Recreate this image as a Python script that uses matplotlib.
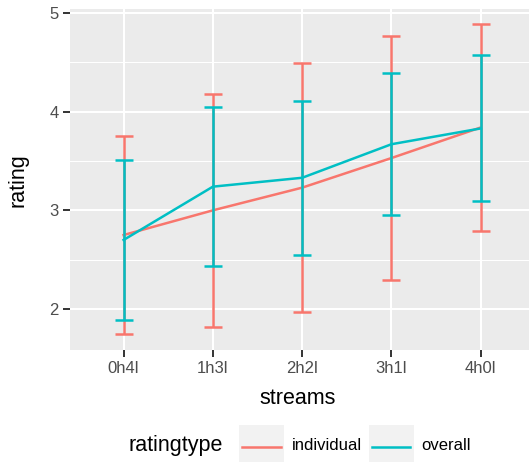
import matplotlib
matplotlib.use("Agg")
import matplotlib.pyplot as plt
from matplotlib.patches import Rectangle
from matplotlib.lines import Line2D

plt.rcParams['font.family'] = ['Liberation Sans', 'DejaVu Sans']

streams = ['0h4l', '1h3l', '2h2l', '3h1l', '4h0l']
individual_mean = [2.75, 3.00, 3.23, 3.53, 3.84]
individual_err = [1.005, 1.18, 1.26, 1.24, 1.045]
overall_mean = [2.70, 3.24, 3.33, 3.67, 3.83]
overall_err = [0.815, 0.805, 0.78, 0.72, 0.74]

series = [('individual', individual_mean, individual_err, '#F8766D'),
          ('overall', overall_mean, overall_err, '#00BFC4')]

W, H = 529, 462
fig = plt.figure(figsize=(W / 100, H / 100), dpi=100)


def fx(x):
    return x / W


def fy(y):
    return 1 - y / H


ax = fig.add_axes([fx(70), fy(350), 1 - fx(70), fy(9) - fy(350)])
ax.set_facecolor('#EBEBEB')
for s in ax.spines.values():
    s.set_visible(False)

xs = list(range(len(streams)))
for name, mean, err, col in series:
    ax.plot(xs, mean, color=col, lw=1.8, zorder=3)
    ax.errorbar(xs, mean, yerr=err, fmt='none', ecolor=col, elinewidth=1.8,
                capsize=6.5, capthick=1.8, zorder=3)

ax.set_xlim(-0.6, 4.54)
ax.set_ylim(1.585, 5.04)
ax.set_xticks(xs)
ax.set_xticklabels(streams)
ax.set_yticks([2, 3, 4, 5])
ax.set_yticks([2.5, 3.5, 4.5], minor=True)
ax.grid(which='major', color='white', lw=1.5, zorder=0)
ax.grid(which='minor', axis='y', color='white', lw=0.75, zorder=0)
ax.set_axisbelow(True)
ax.tick_params(which='major', length=5, width=1.4, color='#333333',
               labelcolor='#4D4D4D', labelsize=12, pad=3)
ax.tick_params(which='minor', length=0)

fig.text(fx(18), fy(180), 'rating', rotation=90, ha='center', va='center',
         fontsize=15.5)
fig.text(fx(298), fy(398), 'streams', ha='center', va='center', fontsize=15.5)

# legend along the bottom
fig.text(fx(128), fy(446), 'ratingtype', ha='left', va='center', fontsize=15.5)
keys = [(239, 242, 281, 292), (369, 372, 410, 421)]
for (name, mean, err, col), (bx, lx0, lx1, tx) in zip(series, keys):
    fig.patches.append(Rectangle((fx(bx), fy(470)), fx(45), fy(425) - fy(470),
                                 transform=fig.transFigure, facecolor='#F2F2F2',
                                 edgecolor='none'))
    fig.lines.append(Line2D([fx(lx0), fx(lx1)], [fy(447), fy(447)],
                            transform=fig.transFigure, color=col, lw=1.8))
    fig.text(fx(tx), fy(446), name, ha='left', va='center', fontsize=12)

fig.savefig('out.png', dpi=100)
